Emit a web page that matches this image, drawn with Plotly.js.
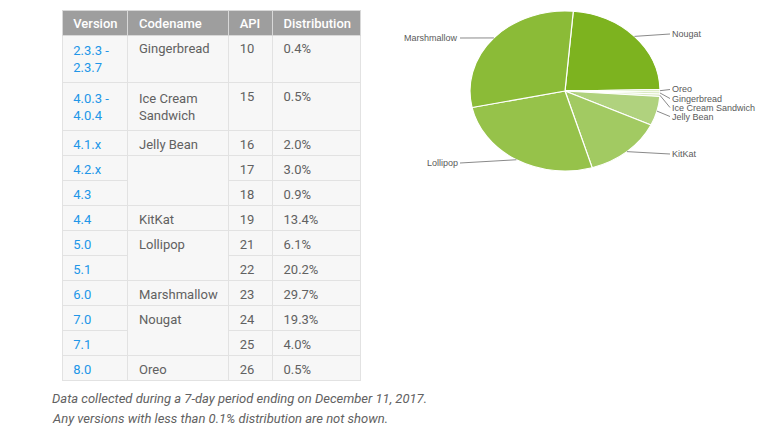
<!DOCTYPE html>
<html>
<head>
<meta charset="utf-8">
<script src="https://cdn.plot.ly/plotly-3.0.1.min.js"></script>
<style>
  html, body { margin: 0; padding: 0; background: #fff; }
  #chart { width: 782px; height: 440px; }
</style>
</head>
<body>
<div id="chart"></div>
<script>
// table data, one entry per platform version
const headers = ["Version", "Codename", "API", "Distribution"];
const versions = ["2.3.3 -<br>2.3.7", "4.0.3 -<br>4.0.4", "4.1.x", "4.2.x", "4.3", "4.4", "5.0", "5.1", "6.0", "7.0", "7.1", "8.0"];
// "" = row continues the codename above (merged cell)
const codenames = ["Gingerbread", "Ice Cream<br>Sandwich", "Jelly Bean", "", "", "KitKat", "Lollipop", "", "Marshmallow", "Nougat", "", "Oreo"];
const apiLevels = [10, 15, 16, 17, 18, 19, 21, 22, 23, 24, 25, 26];
const distribution = [0.4, 0.5, 2.0, 3.0, 0.9, 13.4, 6.1, 20.2, 29.7, 19.3, 4.0, 0.5];

// pie slices, clockwise from 12 o'clock
const pieLabels = ["Nougat", "Oreo", "Gingerbread", "Ice Cream Sandwich", "Jelly Bean", "KitKat", "Lollipop", "Marshmallow"];
const pieValues = [23.3, 0.5, 0.4, 0.5, 5.9, 13.4, 26.3, 29.7];
const pieColors = ["#7db31f", "#d2e6b2", "#c6dfa0", "#dcecc5", "#b0d27e", "#a2ca62", "#96c24a", "#8bbb37"];

const notes = [
  "Data collected during a 7-day period ending on December 11, 2017.",
  "Any versions with less than 0.1% distribution are not shown.",
];

// where each pie label sits (px), and which side of it the leader line enters
const labelPos = [
  [670, 34, "left"], [670, 89.5, "left"], [670, 98.5, "left"], [670, 107.5, "left"],
  [670, 116.5, "left"], [670, 154, "left"], [460, 163, "right"], [460, 38, "right"],
];

const W = 782, H = 440;
const NB = "\u00a0";
const CELL_BG = "#f7f7f7";
const LINE = "#e2e2e2";
const TEXT = "#616161";
const BLUE = "#2196e8";
const STRETCH = 95 / 80; // pie is drawn as an ellipse

const pad = (s) => String(s).split("<br>").map((p) => NB + p).join("<br>");

// data columns ordered so the Version column is drawn last (its border stays on top)
const colValues = [
  codenames.map(pad),
  apiLevels.map(pad),
  distribution.map((d) => pad(d.toFixed(1) + "%")),
  versions.map(pad),
];
const lineColors = [
  codenames.map((c) => (c === "" ? CELL_BG : LINE)),
  apiLevels.map(() => LINE),
  distribution.map(() => LINE),
  versions.map(() => LINE),
];

const table = {
  type: "table",
  domain: { x: [62 / W, 362 / W], y: [0, 1 - 10 / H] },
  columnorder: [1, 2, 3, 0],
  columnwidth: [101, 44, 89, 66],
  header: {
    values: [headers[1], headers[2], headers[3], headers[0]].map(pad),
    align: "left",
    height: 25,
    fill: { color: "#9e9e9e" },
    line: { color: "#d8d8d8", width: 1 },
    font: { family: "Roboto, sans-serif", size: 13, color: "#ffffff", weight: 500 },
  },
  cells: {
    values: colValues,
    align: "left",
    height: 25,
    fill: { color: CELL_BG },
    line: { color: lineColors, width: 1 },
    font: { family: "Roboto, sans-serif", size: 13, color: [TEXT, TEXT, TEXT, BLUE] },
  },
};

const pie = {
  type: "pie",
  labels: pieLabels,
  values: pieValues,
  sort: false,
  direction: "clockwise",
  rotation: 5,
  textinfo: "none",
  hoverinfo: "skip",
  showlegend: false,
  marker: { colors: pieColors, line: { color: "#ffffff", width: 1 } },
  domain: { x: [485 / W, 645 / W], y: [1 - 171 / H, 1 - 11 / H] },
};

const noteAnnotations = notes.map((t, i) => ({
  text: "<i>" + t + "</i>",
  xref: "paper", yref: "paper",
  x: 50 / W, y: 1 - (398 + i * 20) / H,
  xanchor: "left", yanchor: "middle",
  showarrow: false,
  font: { family: "Roboto, sans-serif", size: 13, color: "#616161" },
}));

const layout = {
  width: W, height: H,
  margin: { l: 0, r: 0, t: 0, b: 0 },
  paper_bgcolor: "#ffffff",
  showlegend: false,
  annotations: noteAnnotations,
};

const gd = document.getElementById("chart");

function pieLabelAnnotations() {
  const cd = gd.calcdata[1];
  const cx = cd[0].cx, cy = cd[0].cy, r = cd[0].r;
  return cd.map((pt, i) => {
    const m = pt.pxmid;
    const len = Math.hypot(m[0], m[1]) || 1;
    const px = cx + STRETCH * r * m[0] / len;
    const py = cy + r * m[1] / len;
    const [tx, ty, side] = labelPos[i];
    return {
      text: pieLabels[i],
      xref: "paper", yref: "paper",
      x: px / W, y: 1 - py / H,
      ax: tx - px, ay: ty - py,
      xanchor: side, yanchor: "middle",
      showarrow: true, arrowhead: 0, arrowwidth: 1, arrowcolor: "#8a8a8a",
      standoff: 0, startstandoff: 0,
      font: { family: "Liberation Sans, Arial, sans-serif", size: 9, color: "#5a5a5a" },
    };
  });
}

function stretchPie() {
  const g = gd.querySelector(".pielayer .trace");
  if (!g) return;
  const cd0 = gd.calcdata[1][0];
  g.setAttribute("transform",
    `translate(${cd0.cx},${cd0.cy}) scale(${STRETCH},1) translate(${-cd0.cx},${-cd0.cy})`);
}

Plotly.newPlot(gd, [table, pie], layout, { staticPlot: true, displayModeBar: false })
  .then(() => Plotly.relayout(gd, { annotations: noteAnnotations.concat(pieLabelAnnotations()) }))
  .then(stretchPie)
  .catch((err) => console.error(err));
</script>
</body>
</html>
